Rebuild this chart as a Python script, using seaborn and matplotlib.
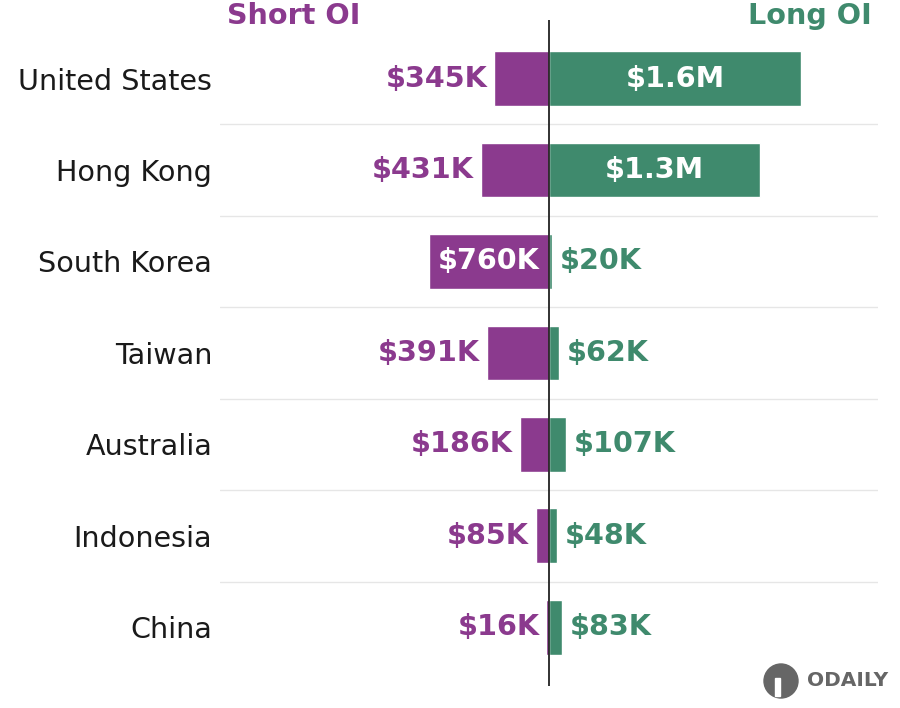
import numpy as np
import pandas as pd
import seaborn as sns
import matplotlib.pyplot as plt
from matplotlib.patches import Ellipse, Rectangle

countries = ['United States', 'Hong Kong', 'South Korea', 'Taiwan', 'Australia', 'Indonesia', 'China']
short_oi = [345000, 431000, 760000, 391000, 186000, 85000, 16000]
long_oi = [1595000, 1335000, 20000, 62000, 107000, 48000, 83000]
short_labels = ['$345K', '$431K', '$760K', '$391K', '$186K', '$85K', '$16K']
long_labels = ['$1.6M', '$1.3M', '$20K', '$62K', '$107K', '$48K', '$83K']

purple = '#8B3A8E'
green = '#3F8A6D'

df = pd.DataFrame({'country': countries, 'short': [-v for v in short_oi], 'long': long_oi})

sns.set_theme(style='white')
plt.rcParams['font.family'] = ['DejaVu Sans']

fig = plt.figure(figsize=(9, 7.08), dpi=100)
ax = fig.add_axes([0.2444, 0.0311, 0.7312, 0.9407])

sns.barplot(data=df, y='country', x='short', color=purple, width=0.6, saturation=1, ax=ax, orient='h')
sns.barplot(data=df, y='country', x='long', color=green, width=0.6, saturation=1, ax=ax, orient='h')

ax.set_xlim(-2.08e6, 2.08e6)
ax.set_ylim(6.64, -0.64)
ax.axvline(0, color='#222222', lw=1.3, zorder=5)
for i in range(len(countries) - 1):
    ax.axhline(i + 0.5, color='#e6e6e6', lw=1, zorder=0)

fs = 20.6
# short labels
for i, (v, lab) in enumerate(zip(short_oi, short_labels)):
    if v > 600000:
        ax.text(-v / 2, i, lab, color='white', fontsize=fs, fontweight='bold', ha='center', va='center', zorder=6)
    else:
        ax.annotate(lab, (-v, i), xytext=(-7, 0), textcoords='offset pixels', color=purple,
                    fontsize=fs, fontweight='bold', ha='right', va='center')
# long labels
for i, (v, lab) in enumerate(zip(long_oi, long_labels)):
    if v > 600000:
        ax.text(v / 2, i, lab, color='white', fontsize=fs, fontweight='bold', ha='center', va='center', zorder=6)
    else:
        ax.annotate(lab, (v, i), xytext=(8, 0), textcoords='offset pixels', color=green,
                    fontsize=fs, fontweight='bold', ha='left', va='center')

ax.set_xlabel('')
ax.set_ylabel('')
ax.set_xticks([])
ax.tick_params(axis='y', labelsize=fs, length=0, pad=5.5, labelcolor='#1a1a1a')
for s in ax.spines.values():
    s.set_visible(False)

fig.text(227 / 900, 1 - 16 / 708, 'Short OI', color=purple, fontsize=fs, fontweight='bold', ha='left', va='center')
fig.text(872 / 900, 1 - 16 / 708, 'Long OI', color=green, fontsize=fs, fontweight='bold', ha='right', va='center')

# watermark
fig.add_artist(Ellipse((781 / 900, 27 / 708), 34 / 900, 34 / 708, color='#666666', transform=fig.transFigure))
fig.add_artist(Rectangle((775 / 900, 12 / 708), 5 / 900, 18 / 708, color='white', transform=fig.transFigure))
fig.text(888 / 900, 1 - 681 / 708, 'ODAILY', color='#666666', fontsize=14.5, fontweight='bold',
         ha='right', va='center')

fig.savefig('out.png', dpi=100)
